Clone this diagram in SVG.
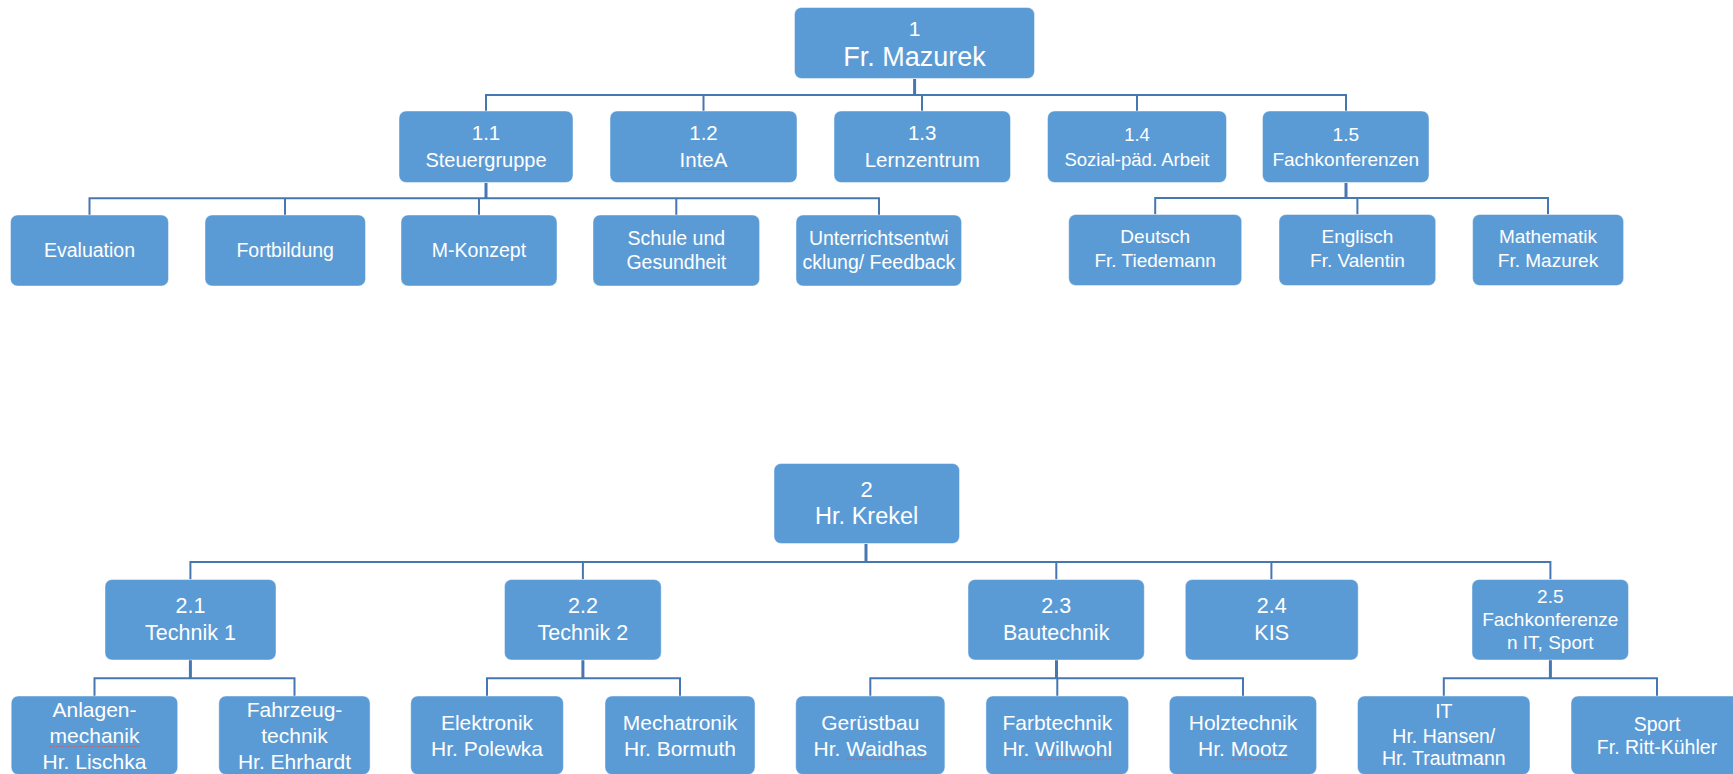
<svg xmlns="http://www.w3.org/2000/svg" width="1733" height="774" viewBox="0 0 1733 774">
<style>
.box{fill:#5B9BD5;stroke:#ffffff;stroke-opacity:0.45;stroke-width:1}
.t{fill:#ffffff;font-family:"Liberation Sans",Arial,sans-serif;text-anchor:middle}
.c{fill:none;stroke:#4677B0;stroke-width:2}
.s{fill:none;stroke:#4677B0;stroke-width:3}
.sp{fill:none;stroke:#d9534f;stroke-width:1;stroke-dasharray:1.5 1.5;opacity:0.8}
</style>
<rect width="1733" height="774" fill="#ffffff"/>
<g id="connectors">
  <path class="s" d="M914.6 79V95"/>
  <path class="c" d="M486 111V95H1346V111M703.5 95V111M922 95V111M1137 95V111"/>
  <path class="s" d="M486 183V198.3"/>
  <path class="c" d="M89.5 215V198.3H879V215M285 198.3V215M479 198.3V215M676.3 198.3V215"/>
  <path class="s" d="M1346 183V198"/>
  <path class="c" d="M1155.2 214.5V198H1548V214.5M1357.4 198V214.5"/>
  <path class="s" d="M866 544V562"/>
  <path class="c" d="M190.4 579.5V562H1550.4V579.5M582.9 562V579.5M1056.3 562V579.5M1271.4 562V579.5"/>
  <path class="s" d="M190.4 660V678.3"/>
  <path class="c" d="M94.5 696V678.3H294.5V696"/>
  <path class="s" d="M582.9 660V678.3"/>
  <path class="c" d="M487 696V678.3H680V696"/>
  <path class="s" d="M1056.5 660V678.3"/>
  <path class="c" d="M870.3 696V678.3H1243V696M1057.3 678.3V696"/>
  <path class="s" d="M1550.4 660V678.3"/>
  <path class="c" d="M1443.8 696V678.3H1657V696"/>
</g>
<g id="n1"><rect class="box" x="794.5" y="7.5" width="240" height="71" rx="7"/>
  <text class="t" x="914.5" y="36" font-size="21">1</text>
  <text class="t" x="914.5" y="65.5" font-size="27">Fr. Mazurek</text></g>
<g id="n1_1"><rect class="box" x="399" y="111" width="174" height="71.5" rx="7"/>
  <text class="t" x="486" y="140" font-size="20.5">1.1</text>
  <text class="t" x="486" y="166.5" font-size="20">Steuergruppe</text></g>
<g id="n1_2"><rect class="box" x="610" y="111" width="187" height="71.5" rx="7"/>
  <text class="t" x="703.5" y="140" font-size="20.5">1.2</text>
  <text class="t" x="703.5" y="166.5" font-size="20.5">InteA</text></g>
<g id="n1_3"><rect class="box" x="834" y="111" width="176.5" height="71.5" rx="7"/>
  <text class="t" x="922.2" y="140" font-size="20.5">1.3</text>
  <text class="t" x="922.2" y="166.5" font-size="20.5">Lernzentrum</text></g>
<g id="n1_4"><rect class="box" x="1047.5" y="111" width="179" height="71.5" rx="7"/>
  <text class="t" x="1137" y="141" font-size="18.5">1.4</text>
  <text class="t" x="1137" y="165.7" font-size="18.5">Sozial-päd. Arbeit</text></g>
<g id="n1_5"><rect class="box" x="1262.5" y="111" width="166.5" height="71.5" rx="7"/>
  <text class="t" x="1345.8" y="141" font-size="19">1.5</text>
  <text class="t" x="1345.8" y="165.7" font-size="19">Fachkonferenzen</text></g>
<g id="n_eval"><rect class="box" x="10.5" y="215" width="158" height="71" rx="7"/>
  <text class="t" x="89.5" y="257" font-size="19.5">Evaluation</text></g>
<g id="n_fort"><rect class="box" x="205" y="215" width="160.5" height="71" rx="7"/>
  <text class="t" x="285.2" y="257" font-size="19.5">Fortbildung</text></g>
<g id="n_mk"><rect class="box" x="401" y="215" width="156" height="71" rx="7"/>
  <text class="t" x="479" y="257" font-size="19.5">M-Konzept</text></g>
<g id="n_schule"><rect class="box" x="593" y="215" width="166.6" height="71" rx="7"/>
  <text class="t" x="676.3" y="245" font-size="19.5">Schule und</text>
  <text class="t" x="676.3" y="268.5" font-size="19.5">Gesundheit</text></g>
<g id="n_unt"><rect class="box" x="796" y="215" width="165.6" height="71" rx="7"/>
  <text class="t" x="878.8" y="245" font-size="19.5">Unterrichtsentwi</text>
  <text class="t" x="878.8" y="268.5" font-size="19.5">cklung/ Feedback</text></g>
<g id="n_deutsch"><rect class="box" x="1068.7" y="214.5" width="173" height="71" rx="7"/>
  <text class="t" x="1155.2" y="243.3" font-size="19">Deutsch</text>
  <text class="t" x="1155.2" y="266.7" font-size="19">Fr. Tiedemann</text></g>
<g id="n_englisch"><rect class="box" x="1279" y="214.5" width="156.7" height="71" rx="7"/>
  <text class="t" x="1357.4" y="243.3" font-size="19">Englisch</text>
  <text class="t" x="1357.4" y="266.7" font-size="19">Fr. Valentin</text></g>
<g id="n_mathe"><rect class="box" x="1472.6" y="214.5" width="151" height="71" rx="7"/>
  <text class="t" x="1548" y="243.3" font-size="19">Mathematik</text>
  <text class="t" x="1548" y="266.7" font-size="19">Fr. Mazurek</text></g>
<g id="n2"><rect class="box" x="774" y="463.5" width="185.5" height="80" rx="7"/>
  <text class="t" x="866.7" y="497.3" font-size="22">2</text>
  <text class="t" x="866.7" y="524" font-size="23.5">Hr. Krekel</text></g>
<g id="n2_1"><rect class="box" x="105" y="579.5" width="171" height="80.5" rx="7"/>
  <text class="t" x="190.5" y="613.3" font-size="21.5">2.1</text>
  <text class="t" x="190.5" y="640" font-size="21.5">Technik 1</text></g>
<g id="n2_2"><rect class="box" x="504.5" y="579.5" width="156.7" height="80.5" rx="7"/>
  <text class="t" x="582.9" y="613.3" font-size="21.5">2.2</text>
  <text class="t" x="582.9" y="640" font-size="21.5">Technik 2</text></g>
<g id="n2_3"><rect class="box" x="968" y="579.5" width="176.3" height="80.5" rx="7"/>
  <text class="t" x="1056.2" y="613.3" font-size="21.5">2.3</text>
  <text class="t" x="1056.2" y="640" font-size="21.5">Bautechnik</text></g>
<g id="n2_4"><rect class="box" x="1185.3" y="579.5" width="172.9" height="80.5" rx="7"/>
  <text class="t" x="1271.7" y="613.3" font-size="21.5">2.4</text>
  <text class="t" x="1271.7" y="640" font-size="21.5">KIS</text></g>
<g id="n2_5"><rect class="box" x="1472" y="579.5" width="156.5" height="80.5" rx="7"/>
  <text class="t" x="1550.3" y="603.3" font-size="19">2.5</text>
  <text class="t" x="1550.3" y="626" font-size="19">Fachkonferenze</text>
  <text class="t" x="1550.3" y="649.3" font-size="19">n IT, Sport</text></g>
<g id="n_anlagen"><rect class="box" x="11.2" y="696" width="166.5" height="78.5" rx="7"/>
  <text class="t" x="94.5" y="716.7" font-size="21">Anlagen-</text>
  <text class="t" x="94.5" y="743.3" font-size="21">mechanik</text>
  <text class="t" x="94.5" y="769" font-size="21">Hr. Lischka</text></g>
<g id="n_fahrzeug"><rect class="box" x="218.8" y="696" width="151.3" height="78.5" rx="7"/>
  <text class="t" x="294.5" y="716.7" font-size="21">Fahrzeug-</text>
  <text class="t" x="294.5" y="743.3" font-size="21">technik</text>
  <text class="t" x="294.5" y="769" font-size="21">Hr. Ehrhardt</text></g>
<g id="n_elektronik"><rect class="box" x="410.7" y="696" width="152.7" height="78.5" rx="7"/>
  <text class="t" x="487" y="730" font-size="21">Elektronik</text>
  <text class="t" x="487" y="756" font-size="21">Hr. Polewka</text></g>
<g id="n_mechatronik"><rect class="box" x="605" y="696" width="150" height="78.5" rx="7"/>
  <text class="t" x="680" y="730" font-size="21">Mechatronik</text>
  <text class="t" x="680" y="756" font-size="21">Hr. Bormuth</text></g>
<g id="n_geruestbau"><rect class="box" x="795.7" y="696" width="149.2" height="78.5" rx="7"/>
  <text class="t" x="870.3" y="730" font-size="21">Gerüstbau</text>
  <text class="t" x="870.3" y="756" font-size="21">Hr. Waidhas</text></g>
<g id="n_farbtechnik"><rect class="box" x="985.9" y="696" width="142.7" height="78.5" rx="7"/>
  <text class="t" x="1057.3" y="730" font-size="21">Farbtechnik</text>
  <text class="t" x="1057.3" y="756" font-size="21">Hr. Willwohl</text></g>
<g id="n_holztechnik"><rect class="box" x="1169.3" y="696" width="147.3" height="78.5" rx="7"/>
  <text class="t" x="1243" y="730" font-size="21">Holztechnik</text>
  <text class="t" x="1243" y="756" font-size="21">Hr. Mootz</text></g>
<g id="n_it"><rect class="box" x="1357.5" y="696" width="172.5" height="78.5" rx="7"/>
  <text class="t" x="1443.8" y="718.3" font-size="19.5">IT</text>
  <text class="t" x="1443.8" y="742.7" font-size="19.5">Hr. Hansen/</text>
  <text class="t" x="1443.8" y="765" font-size="19.5">Hr. Trautmann</text></g>
<g id="n_sport"><rect class="box" x="1571" y="696" width="172" height="78.5" rx="7"/>
  <text class="t" x="1657" y="731" font-size="19.5">Sport</text>
  <text class="t" x="1657" y="754.3" font-size="19.5">Fr. Ritt-Kühler</text></g>
<g id="spellcheck">
  <path class="sp" d="M680 169.5H727"/>
  <path class="sp" d="M50 746.5H139"/>
  <path class="sp" d="M847 759H928"/>
  <path class="sp" d="M1036 759H1112"/>
  <path class="sp" d="M1232 759H1288"/>
</g>
</svg>
